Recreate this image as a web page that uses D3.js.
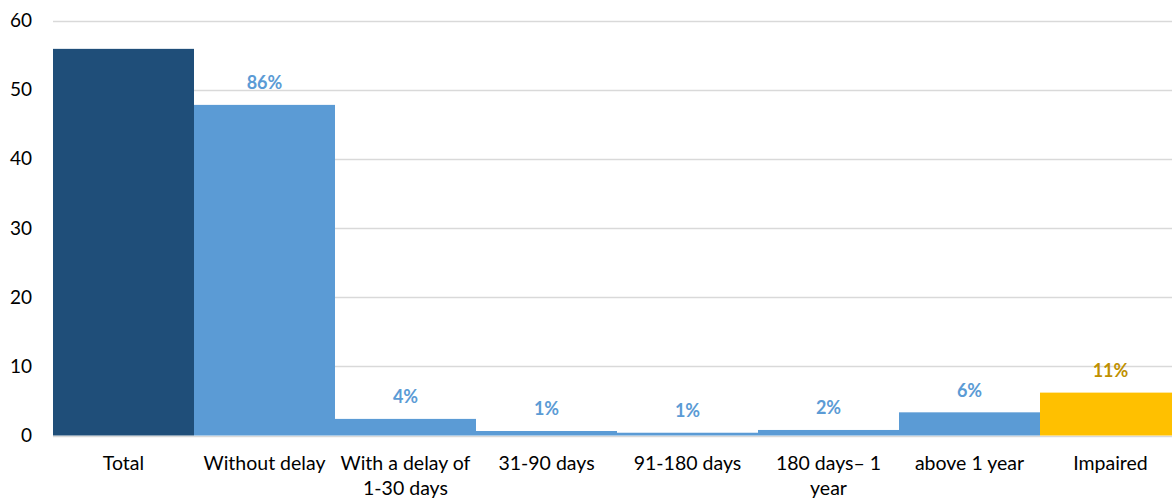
<!DOCTYPE html>
<html><head><meta charset="utf-8">
<script src="https://cdn.jsdelivr.net/npm/d3@7"></script>
<style>body{margin:0;background:#fff}svg{display:block}</style>
</head><body>
<svg id="c" width="1172" height="500"></svg>
<script>
const categories = ["Total","Without delay","With a delay of 1-30 days","31-90 days","91-180 days","180 days– 1 year","above 1 year","Impaired"];
const tickLines = [["Total"],["Without delay"],["With a delay of","1-30 days"],["31-90 days"],["91-180 days"],["180 days– 1","year"],["above 1 year"],["Impaired"]];
const values = [55.9, 47.8, 2.4, 0.65, 0.4, 0.8, 3.35, 6.2];
const pctLabels = ["", "86%", "4%", "1%", "1%", "2%", "6%", "11%"];
const yTicks = [0,10,20,30,40,50,60];
const barColors = ["#1F4E79","#5B9BD5","#5B9BD5","#5B9BD5","#5B9BD5","#5B9BD5","#5B9BD5","#FFC000"];
const labelColors = ["#5B9BD5","#5B9BD5","#5B9BD5","#5B9BD5","#5B9BD5","#5B9BD5","#5B9BD5","#BF9000"];

const svg = d3.select("#c");
const font = "Lato, 'Open Sans', sans-serif";
const x = d3.scaleBand().domain(categories).range([53, 1181]).padding(0);
const y = d3.scaleLinear().domain([0,60]).range([435.5, 20.5]);

// gridlines
svg.append("g").selectAll("line").data(yTicks).join("line")
  .attr("x1", 53).attr("x2", 1172)
  .attr("y1", d => Math.round(y(d)) + 0.5).attr("y2", d => Math.round(y(d)) + 0.5)
  .attr("stroke", "#d9d9d9").attr("stroke-width", 1.3);

// y axis labels
const yAxis = d3.axisLeft(y).tickValues(yTicks).tickSize(0).tickPadding(0);
const ga = svg.append("g").attr("transform", "translate(32,0)").call(yAxis);
ga.select(".domain").remove();
ga.selectAll("text").attr("font-family", font).attr("font-size", 19).attr("fill", "#000");

// bars
svg.append("g").selectAll("rect").data(values).join("rect")
  .attr("x", (d,i) => x(categories[i]))
  .attr("width", x.bandwidth())
  .attr("y", d => y(d))
  .attr("height", d => y(0) - y(d))
  .attr("fill", (d,i) => barColors[i]);

// percent labels
svg.append("g").selectAll("text").data(values).join("text")
  .attr("x", (d,i) => x(categories[i]) + x.bandwidth()/2)
  .attr("y", d => y(d) - 22)
  .attr("dy", "0.35em")
  .attr("text-anchor", "middle")
  .attr("font-family", font).attr("font-size", 18).attr("font-weight", "bold")
  .attr("fill", (d,i) => labelColors[i])
  .text((d,i) => pctLabels[i]);

// x axis labels
const xl = svg.append("g").selectAll("text").data(categories).join("text")
  .attr("x", d => x(d) + x.bandwidth()/2)
  .attr("text-anchor", "middle")
  .attr("font-family", font).attr("font-size", 19.5).attr("fill", "#000");
xl.each(function(d,i){
  d3.select(this).selectAll("tspan").data(tickLines[i]).join("tspan")
    .attr("x", x(d) + x.bandwidth()/2)
    .attr("y", (t,j) => 470 + j*25)
    .text(t => t);
});
</script>
</body></html>
